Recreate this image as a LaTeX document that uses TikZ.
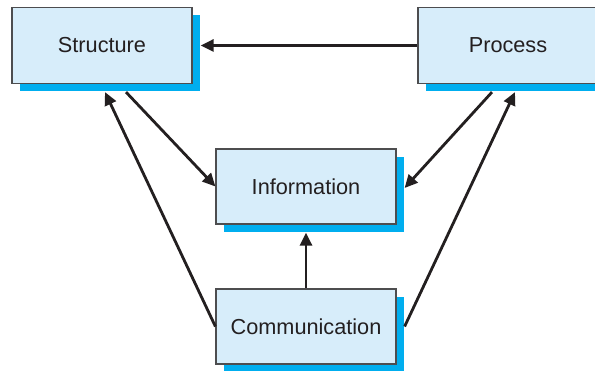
\documentclass[tikz,border=0pt]{standalone}
\usepackage{fontspec}
\setmainfont{Liberation Sans}
\usetikzlibrary{arrows.meta,shadows,calc}
\definecolor{boxfill}{HTML}{D7EDFA}
\definecolor{boxedge}{HTML}{4D4D4F}
\definecolor{shadowblue}{HTML}{00AEEF}
\definecolor{ink}{HTML}{231F20}
\begin{document}
\begin{tikzpicture}[x=1pt,y=-1pt,
  topic/.style={draw=boxedge, line width=1.2pt, fill=boxfill,
    minimum width=180pt, minimum height=76pt, inner sep=0pt,
    text=ink, font=\fontsize{21.7}{25}\selectfont,
    drop shadow={shadow xshift=8pt, shadow yshift=-8pt, fill=shadowblue, opacity=1}},
  link/.style={draw=ink, line width=2.8pt,
    -{Triangle[length=13pt,width=12pt]}}]
\clip (0,0) rectangle (595,371);
\fill[white] (0,0) rectangle (595,371);

% the four topics
\node[topic] (S) at (102,45.5) {Structure};
\node[topic] (P) at (508,45.5) {Process};
\node[topic, minimum height=75pt] (I) at (306,186.5) {Information};
\node[topic, minimum height=75pt] (C) at (306,326.5) {Communication};

% connectors, ending on the shadow edges
\draw[link] (P.west) -- ($(S.east)+(8,0)$);
\draw[link] ($(S.south)+(24,8)$) -- (I.west);
\draw[link] (C.west) -- ($(S.south)+(3,8)$);
\draw[link] ($(P.south)+(-16,8)$) -- ($(I.east)+(8,1.5)$);
\draw[link] ($(C.east)+(8,0)$) -- ($(P.south)+(7,8)$);
\draw[link] (C.north) -- ($(I.south)+(0,8)$);
\end{tikzpicture}
\end{document}
